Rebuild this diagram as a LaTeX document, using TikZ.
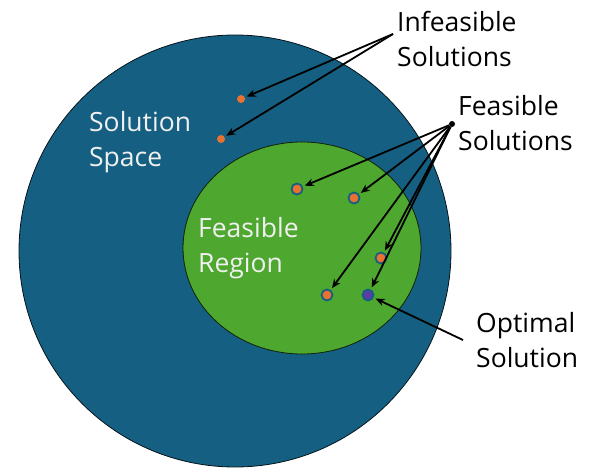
\documentclass[tikz,border=0pt]{standalone}
\usepackage{fontspec}
\setmainfont{Open Sans}
\usetikzlibrary{shapes.geometric, arrows.meta}
\definecolor{spaceblue}{HTML}{156082}
\definecolor{regiongreen}{HTML}{4EA72E}
\definecolor{dotorange}{HTML}{E97132}
\definecolor{optpurple}{HTML}{5B3BA5}
\tikzstyle{space} = [circle, minimum size=432pt, inner sep=0pt, draw=black!80!spaceblue, line width=0.8pt, fill=spaceblue]
\tikzstyle{region} = [ellipse, minimum width=238pt, minimum height=212pt, inner sep=0pt, draw=black!80!regiongreen, line width=0.8pt, fill=regiongreen]
\tikzstyle{darktext} = [align=left, anchor=base west, inner sep=0pt, font=\fontsize{26.5}{35}\selectfont, text=black]
\tikzstyle{lighttext} = [darktext, text=white!94!black]
\tikzstyle{infeas} = [circle, minimum size=8pt, inner sep=0pt, fill=dotorange]
\tikzstyle{feas} = [circle, minimum size=11pt, inner sep=0pt, fill=dotorange, draw=spaceblue, line width=1.8pt]
\tikzstyle{optim} = [feas, fill=optpurple]
\tikzstyle{hub} = [circle, minimum size=6pt, inner sep=0pt, fill=black]
\tikzstyle{arrow} = [line width=1.8pt,->,>={Stealth[length=9pt,width=7.5pt]}, shorten >=2pt]

\begin{document}
\begin{tikzpicture}[x=1pt, y=-1pt]
\useasboundingbox (0,0) rectangle (589,468);
\node (solspace) [space] at (235,251) {};
\node (feasregion) [region] at (302,248) {};

% base anchor sits on the last line
\node (spacetext) [lighttext] at (89,166) {Solution\\Space};
\node (regiontext) [lighttext] at (198,272) {Feasible\\Region};
\node (infeastext) [darktext] at (397,67) {Infeasible\\Solutions};
\node (feastext) [darktext] at (458,150) {Feasible\\Solutions};
\node (opttext) [darktext] at (476,367) {Optimal\\Solution};

\node (inf1) [infeas] at (241,99) {};
\node (inf2) [infeas] at (221,139) {};
\node (feas1) [feas] at (297,189) {};
\node (feas2) [feas] at (354,198) {};
\node (feas3) [feas] at (381,258) {};
\node (feas4) [feas] at (327,295) {};
\node (opt) [optim] at (368,295) {};

\coordinate (infeasfrom) at (393,34);
\node (feashub) [hub] at (452,124) {};
\coordinate (optfrom) at (463,340);

\draw [arrow] (infeasfrom) -- (inf1);
\draw [arrow] (infeasfrom) -- (inf2);
\foreach \dot in {feas1,feas2,feas3,feas4,opt}
  \draw [arrow] (feashub) -- (\dot);
\draw [arrow] (optfrom) -- (opt);
\end{tikzpicture}
\end{document}
